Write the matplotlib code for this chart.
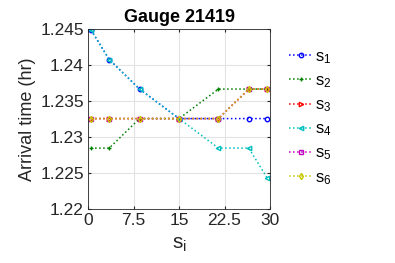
import matplotlib
matplotlib.use("Agg")
import matplotlib.pyplot as plt

plt.rcParams['font.family'] = ['Liberation Sans', 'DejaVu Sans']
plt.rcParams['mathtext.fontset'] = 'custom'
plt.rcParams['mathtext.rm'] = 'Liberation Sans'
plt.rcParams['mathtext.it'] = 'Liberation Sans'

x = [0.5, 3.5, 8.5, 15, 21.5, 26.5, 29.5]
s1 = [1.2449, 1.2408, 1.2367, 1.2326, 1.2326, 1.2326, 1.2326]
s2 = [1.2285, 1.2285, 1.2326, 1.2326, 1.2367, 1.2367, 1.2367]
s3 = [1.2326, 1.2326, 1.2326, 1.2326, 1.2326, 1.2367, 1.2367]
s4 = [1.2449, 1.2408, 1.2367, 1.2326, 1.2285, 1.2285, 1.2244]
s5 = [1.2326, 1.2326, 1.2326, 1.2326, 1.2326, 1.2367, 1.2367]
s6 = [1.2326, 1.2326, 1.2326, 1.2326, 1.2326, 1.2367, 1.2367]
labels = ['s$_1$', 's$_2$', 's$_3$', 's$_4$', 's$_5$', 's$_6$']
xticks = [0, 7.5, 15, 22.5, 30]
xticklabels = ['0', '7.5', '15', '22.5', '30']
yticks = [1.22, 1.225, 1.23, 1.235, 1.24, 1.245]
yticklabels = ['1.22', '1.225', '1.23', '1.235', '1.24', '1.245']

series = [s1, s2, s3, s4, s5, s6]
colors = ['#0000ff', '#008000', '#ff0000', '#00bfbf', '#bf00bf', '#c8c800']
markers = ['o', '+', '>', '<', 's', 'd']

fig = plt.figure(figsize=(3.95, 2.63), dpi=100)
ax = fig.add_axes([0.2228, 0.2042, 0.4608, 0.6844])

for ys, c, m, lab in zip(series, colors, markers, labels):
    ax.plot(x, ys, linestyle=':', color=c, marker=m, markersize=3.2,
            markerfacecolor='none', markeredgewidth=1.0, linewidth=1.1, label=lab)

ax.set_xlim(0, 30)
ax.set_ylim(1.22, 1.245)
ax.set_xticks(xticks)
ax.set_xticklabels(xticklabels)
ax.set_yticks(yticks)
ax.set_yticklabels(yticklabels)
ax.grid(True, color='#e3e3e3', linewidth=0.8)
ax.set_axisbelow(True)
ax.tick_params(direction='in', length=2.5, labelsize=12.5, colors='#262626', pad=3,
               top=True, right=True)
for sp in ax.spines.values():
    sp.set_color('#262626')
    sp.set_linewidth(0.6)

ax.set_title('Gauge 21419', fontsize=13, fontweight='bold', pad=5)
ax.set_ylabel('Arrival time (hr)', fontsize=13, color='#262626', labelpad=3)
ax.set_xlabel('s$_\\mathregular{i}$', fontsize=15, color='#262626', labelpad=5)

leg = ax.legend(loc='upper left', bbox_to_anchor=(289 / 395, 1 - 49 / 263),
                bbox_transform=fig.transFigure, frameon=False, fontsize=12,
                handlelength=1.4, handletextpad=0.15, labelspacing=0.45,
                borderaxespad=0, borderpad=0)

fig.savefig('out.png', dpi=100)
